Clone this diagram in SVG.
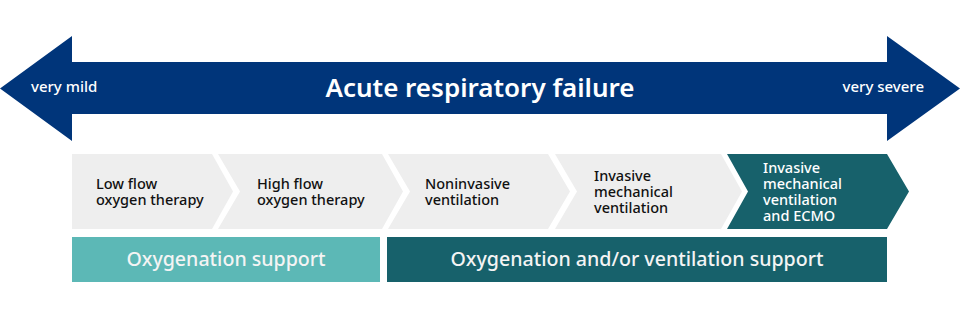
<svg xmlns="http://www.w3.org/2000/svg" width="960" height="318" viewBox="0 0 960 318">
<style>
text{font-family:"Noto Sans","Open Sans","Liberation Sans",sans-serif}
.w{fill:#ffffff}
.k{fill:#111111;font-size:14.5px;font-weight:500}
.kw{fill:#ffffff;font-size:14.5px;font-weight:500}
.gray{fill:#eeeeee}
.dark{fill:#17616b}
.light{fill:#5cb8b6}
.bar{font-size:19.6px;font-weight:500;fill:#f4f4f4;text-anchor:middle}
</style>
<g id="severity-arrow">
<path d="M0,88.5 L72,36 L72,62 L887,62 L887,36 L960,88.5 L887,141 L887,114 L72,114 L72,141 Z" fill="#00357a"/>
<text x="480" y="97" class="w" font-size="26" font-weight="600" text-anchor="middle">Acute respiratory failure</text>
<text x="31" y="92" class="w" font-size="15" font-weight="500">very mild</text>
<text x="924" y="92" class="w" font-size="15" font-weight="500" text-anchor="end">very severe</text>
</g>
<g id="connectors"></g>
<g id="step1">
<path class="gray" d="M72,154 L212,154 L233,191.5 L212,229 L72,229 Z"/>
<text class="k" x="96"><tspan x="96" y="189">Low flow</tspan><tspan x="96" y="205">oxygen therapy</tspan></text>
</g>
<g id="step2">
<path class="gray" d="M218,154 L382,154 L403,191.5 L382,229 L218,229 L240,191.5 Z"/>
<text class="k"><tspan x="257" y="189">High flow</tspan><tspan x="257" y="205">oxygen therapy</tspan></text>
</g>
<g id="step3">
<path class="gray" d="M388,154 L548,154 L570,191.5 L548,229 L388,229 L410,191.5 Z"/>
<text class="k"><tspan x="425" y="189">Noninvasive</tspan><tspan x="425" y="205">ventilation</tspan></text>
</g>
<g id="step4">
<path class="gray" d="M555,154 L721,154 L742,191.5 L721,229 L555,229 L577,191.5 Z"/>
<text class="k"><tspan x="594" y="181">Invasive</tspan><tspan x="594" y="197">mechanical</tspan><tspan x="594" y="213">ventilation</tspan></text>
</g>
<g id="step5">
<path class="dark" d="M727,154 L887,154 L909,191.5 L887,229 L727,229 L748,191.5 Z"/>
<text class="kw"><tspan x="763" y="173">Invasive</tspan><tspan x="763" y="189">mechanical</tspan><tspan x="763" y="205">ventilation</tspan><tspan x="763" y="221">and ECMO</tspan></text>
</g>
<g id="oxygenation-support">
<rect class="light" x="72" y="237" width="308" height="45"/>
<text class="bar" x="226" y="266">Oxygenation support</text>
</g>
<g id="ventilation-support">
<rect class="dark" x="387" y="237" width="500" height="45"/>
<text class="bar" x="637" y="266">Oxygenation and/or ventilation support</text>
</g>
</svg>
